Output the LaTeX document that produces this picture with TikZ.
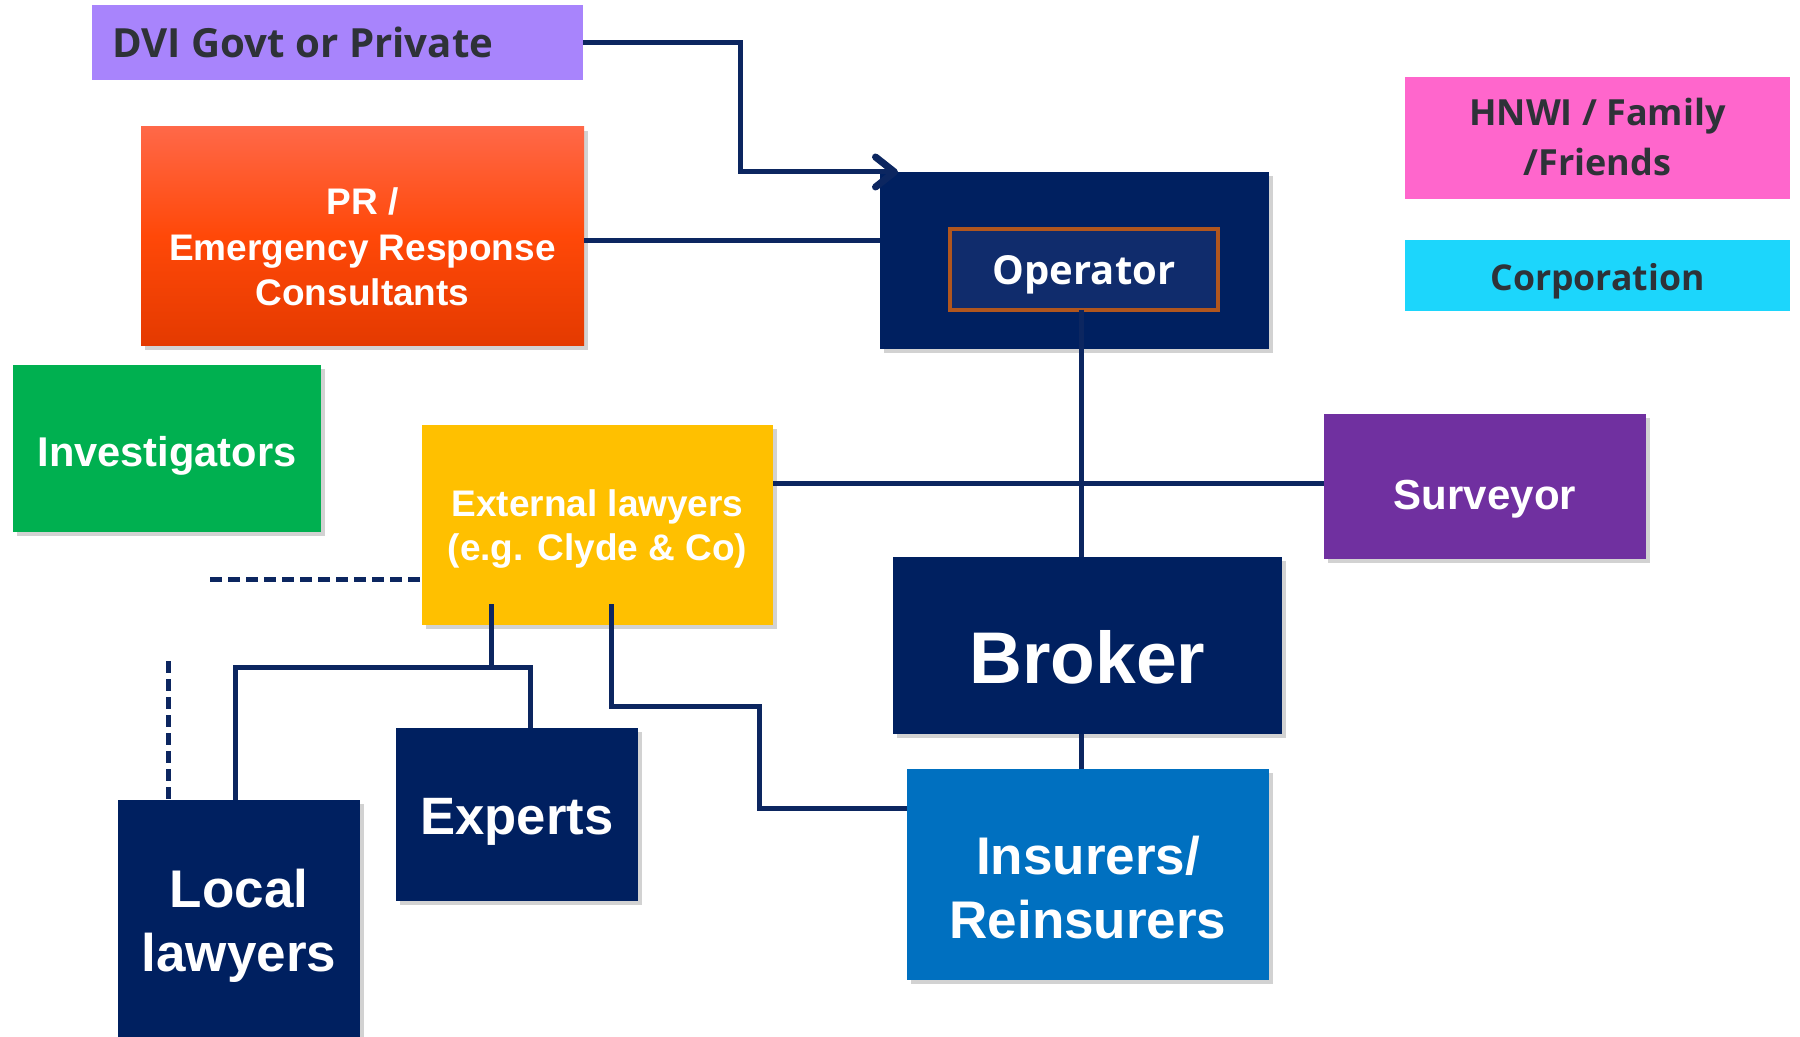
\documentclass[tikz,border=0pt]{standalone}
\usepackage{fontspec}
\setmainfont{Liberation Sans}
\newfontfamily\osans{Open Sans}
\usetikzlibrary{arrows.meta,shadows,calc}

\definecolor{navy}{RGB}{0,32,96}
\definecolor{wire}{RGB}{12,38,96}
\definecolor{lav}{RGB}{168,132,252}
\definecolor{prtop}{RGB}{255,104,72}
\definecolor{prmid}{RGB}{255,72,8}
\definecolor{prbot}{RGB}{228,58,0}
\definecolor{grn}{RGB}{0,176,80}
\definecolor{gold}{RGB}{255,192,0}
\definecolor{pinkbox}{RGB}{255,102,204}
\definecolor{cyanbox}{RGB}{28,214,252}
\definecolor{purp}{RGB}{112,48,160}
\definecolor{bluebox}{RGB}{0,112,192}
\definecolor{opinner}{RGB}{16,44,108}
\definecolor{oprim}{RGB}{176,86,30}
\definecolor{darktxt}{RGB}{46,50,56}

\tikzset{
  box/.style={rectangle, inner sep=0pt, outer sep=0pt},
  shadowed/.style={drop shadow={shadow xshift=1.8pt, shadow yshift=-2.2pt, opacity=0.25, fill=black!70}},
  wire/.style={draw=wire, line width=2.5pt},
  dashwire/.style={wire, dash pattern=on 6pt off 3pt},
  lbl/.style={text=white, align=center, inner sep=0pt},
  sz/.style 2 args={font=\bfseries\fontsize{#1}{#2}\selectfont},
  osz/.style 2 args={font=\osans\bfseries\fontsize{#1}{#2}\selectfont},
}

\begin{document}
\begin{tikzpicture}[x=0.5pt,y=-0.5pt]
\useasboundingbox (0,0) rectangle (1800,1037);
\clip (0,0) rectangle (1800,1037);
\fill[white] (0,0) rectangle (1800,1037);

% ---- boxes ----
\node[box, fill=lav, minimum width=245.5pt, minimum height=37.5pt] (dvi) at (337.5,42.5) {};
\node[lbl, anchor=west, text=darktxt, osz={20.1}{24}] (dviT) at (112,42.5) {DVI Govt or Private};

\node[box, shadowed, top color=prtop, bottom color=prbot, middle color=prmid,
      minimum width=221.5pt, minimum height=109.5pt] (pr) at (362.5,236.5) {};
\node[lbl, sz={18.5}{22.7}] (prT) at (362.5,247) {PR /\\Emergency Response\\Consultants};

\node[box, shadowed, fill=grn, minimum width=154pt, minimum height=83.5pt] (inv) at (167,448.5) {};
\node[lbl, sz={20.8}{25}] (invT) at (167,455.5) {Investigators};

\node[box, shadowed, fill=gold, minimum width=175.5pt, minimum height=100pt] (ext) at (597.5,525) {};
\node[lbl, sz={18.5}{22}] (extT) at (597.5,529.5) {External lawyers\\(e.g. Clyde \& Co)};

\node[box, shadowed, fill=navy, minimum width=194.5pt, minimum height=88.5pt] (op) at (1074.5,260.5) {};
\node[box, fill=opinner, draw=oprim, line width=2pt, minimum width=134pt, minimum height=40.5pt] (opin) at (1084,269.5) {};
\node[lbl, osz={20}{24}] (opT) at (1084,275) {Operator};

\node[box, fill=pinkbox, minimum width=192.5pt, minimum height=61pt] (hnwi) at (1597.5,138) {};
\node[lbl, text=darktxt, osz={18}{25}] (hnwiT) at (1597.5,137) {HNWI / Family\\/Friends};

\node[box, fill=cyanbox, minimum width=192.5pt, minimum height=35.5pt] (corp) at (1597.5,275.5) {};
\node[lbl, text=darktxt, osz={17.8}{22}] (corpT) at (1597.5,281) {Corporation};

\node[box, shadowed, fill=purp, minimum width=161pt, minimum height=72.5pt] (surv) at (1485,486.5) {};
\node[lbl, sz={21}{25}] (survT) at (1485,499) {Surveyor};

\node[box, shadowed, fill=navy, minimum width=194.5pt, minimum height=88.5pt] (broker) at (1087.5,645.5) {};
\node[lbl, sz={36.6}{40}] (brokerT) at (1087.5,657.5) {Broker};

\node[box, shadowed, fill=bluebox, minimum width=181pt, minimum height=105.5pt] (ins) at (1088,874.5) {};
\node[lbl, sz={26.5}{32}] (insT) at (1088,888) {Insurers/\\Reinsurers};

\node[box, shadowed, fill=navy, minimum width=121pt, minimum height=86.5pt] (exp) at (517,814.5) {};
\node[lbl, sz={26.3}{32}] (expT) at (517,822) {Experts};

\node[box, shadowed, fill=navy, minimum width=121pt, minimum height=121pt] (loc) at (239,921) {};
\node[lbl, sz={26.5}{32}] (locT) at (239,926) {Local\\lawyers};

% ---- connection points ----
\coordinate (dviKnee) at (740,172);
\coordinate (opArrow) at ([xshift=9pt]op.north west);
\coordinate (prOut) at ([yshift=-2.25pt]pr.east);
\coordinate (opDown) at ([xshift=-1.5pt]opin.south);
\coordinate (extOut) at ([yshift=20.5pt]ext.east);
\coordinate (brDown) at ([xshift=-3.25pt]broker.south);
\coordinate (extA) at ([xshift=-53.25pt,yshift=10.5pt]ext.south);
\coordinate (fork) at (491,667);
\coordinate (locIn) at ([xshift=-2pt]loc.north);
\coordinate (expIn) at ([xshift=6.5pt]exp.north);
\coordinate (extB) at ([xshift=6.75pt,yshift=10.5pt]ext.south);
\coordinate (kneeB) at (759,706);
\coordinate (insIn) at ([yshift=33.25pt]ins.west);
\coordinate (dashH) at (210,580);
\coordinate (dashV) at (168,661);

% ---- connectors ----
\draw[wire, -{Straight Barb[length=9.5pt,width=15pt,line width'=3.5pt,line cap=round,line join=round]}]
  (dvi.east) -| (dviKnee) -- (opArrow);
\draw[wire] (prOut) -- (prOut -| op.west);
\draw[wire] (opDown) -- (opDown |- broker.north);
\draw[wire] (extOut) -- (extOut -| surv.west);
\draw[wire] (brDown) -- (brDown |- ins.north);
\draw[wire] (extA) -- (fork);
\draw[wire] (locIn) |- (fork) -| (expIn);
\draw[wire] (extB) |- (kneeB) |- (insIn);
\draw[dashwire] (dashH) -- (dashH -| ext.west);
\draw[dashwire] (dashV) -- (dashV |- loc.north);
\end{tikzpicture}
\end{document}
